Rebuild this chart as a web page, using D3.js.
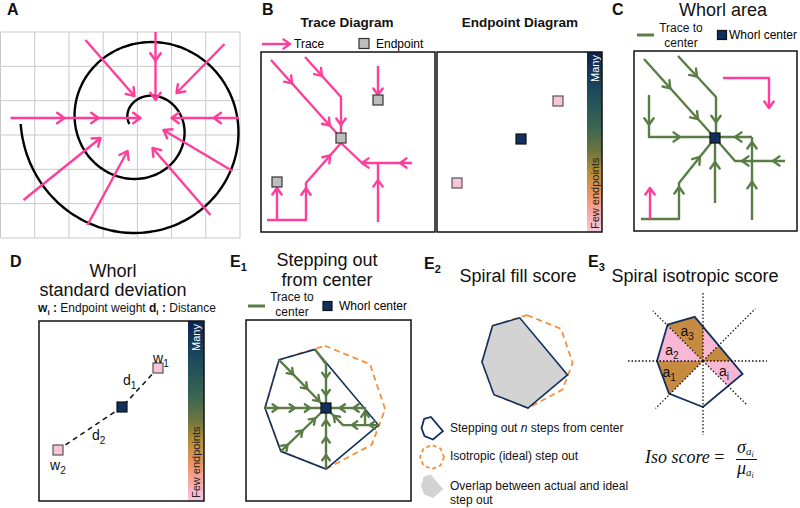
<!DOCTYPE html>
<html><head><meta charset="utf-8">
<script src="https://cdn.jsdelivr.net/npm/d3@7"></script>
<style>body{margin:0;background:#fff}svg{display:block;font-family:"Liberation Sans",Arial,sans-serif}</style>
</head><body><svg id="c" width="800" height="508"></svg>
<script>
// ---------------- DATA ----------------
// Panel A: spiral + traces (local px inside grid box)
const gridCols = 7, gridRows = 6;
const spiralA = {cx:142.5, cy:92, r0:13.5, growth:13.6, from:180, to:900};
const tracesA = [
 {pts:[[85,8],[134,64]], heads:[[0,1]]},
 {pts:[[155,0],[155,68]], heads:[[0,0.42],[0,1]]},
 {pts:[[224,12],[176,61]], heads:[[0,1]]},
 {pts:[[10,86],[140,86]], heads:[[0,0.415],[0,0.677],[0,1]]},
 {pts:[[238,86],[171,86]], heads:[[0,0.37],[0,1]]},
 {pts:[[232,139],[163,98]], heads:[[0,1]]},
 {pts:[[210,183],[152,116]], heads:[[0,1]]},
 {pts:[[87,193],[127,119]], heads:[[0,1]]},
 {pts:[[23,168],[100,106]], heads:[[0,1]]}
];
// Panel B: trace diagram
const tracesB = [
 {pts:[[10,8],[80,86]], heads:[[0,0.3],[0,0.84]]},
 {pts:[[44,5],[80,45],[80,81]], heads:[[0,0.47],[1,0.78]]},
 {pts:[[117,14],[117,43]], heads:[[0,1]]},
 {pts:[[6,168],[45,168],[45,131],[80,91]], heads:[[1,0.86],[2,0.69]]},
 {pts:[[16,168],[16,136]], heads:[[0,1]]},
 {pts:[[151,111],[101,111],[80,91]], heads:[[0,0.24],[0,1]]},
 {pts:[[117,170],[117,111]], heads:[[0,0.71]]}
];
const endpointsB = [[80,86],[117,48],[16,130]];
// Endpoint diagram
const endpointsEP = [{p:[121,49],many:false},{p:[84,87],many:true},{p:[20,131],many:false}];
// Panel C: whorl area
const tracesCgreen = [
 {pts:[[10,8],[81,87]], heads:[[0,0.37],[0,0.76]]},
 {pts:[[44,5],[82,46],[82,82]], heads:[[0,0.5],[1,0.7]]},
 {pts:[[15,44],[15,86],[81,86]], heads:[[0,0.71],[1,0.47]]},
 {pts:[[118,86],[81,86]], heads:[[0,0.46]]},
 {pts:[[118,169],[118,86]], heads:[[0,0.46],[0,0.94]]},
 {pts:[[151,110],[101,110],[81,87]], heads:[[0,0.24],[0,0.86]]},
 {pts:[[81,152],[81,87]], heads:[[0,0.63]]},
 {pts:[[7,168],[45,168],[45,132],[81,87]], heads:[[1,0.89],[2,0.58]]}
];
const tracesCpink = [
 {pts:[[89,27],[135,27],[135,57]], heads:[[1,1]]},
 {pts:[[16,168],[16,137]], heads:[[0,1]]}
];
const centerC = [81,87];
// Panel D
const endpointsD = [{p:[119,47],many:false},{p:[83,86],many:true},{p:[19,129],many:false}];
// E panels: stepping-out polygon and isotropic (ideal) polygon, unit coords
const stepPoly = [[-0.77,-0.79],[-0.18,-0.96],[0.86,0.28],[0,1],[-0.74,0.71],[-1,0]];
const isoPoly  = [[-0.02,-1.02],[0.72,-0.72],[0.97,0.02],[0.75,0.6],[0,1],[-0.74,0.71],[-1,0],[-0.77,-0.79]];
const iconSides = 8;
const tracesE1 = [
 {pts:[[-0.77,-0.79],[0,0]], heads:[[0,0.3],[0,0.6],[0,0.86]]},
 {pts:[[-0.18,-0.96],[0,-0.72],[0,0]], heads:[[1,0.32],[1,0.71]]},
 {pts:[[-1,0],[0,0]], heads:[[0,0.21],[0,0.49],[0,0.74]]},
 {pts:[[-0.74,0.71],[0,0]], heads:[[0,0.15],[0,0.48],[0,0.76]]},
 {pts:[[0,1],[0,0]], heads:[[0,0.23],[0,0.52],[0,0.8]]},
 {pts:[[0.86,0.28],[0.28,0.28],[0,0]], heads:[[0,0.25],[0,0.75],[1,0.55]]},
 {pts:[[0.64,0.28],[0.64,0],[0,0]], heads:[[0,0.8],[1,0.3],[1,0.65]]}
];
// E3 wedges (start angle deg, screen coords) and fills, ray lengths
const wedgeStart = [0,45,90,135,180,225,270,315];
const wedgeKind  = ["pink","none","none","brown","pink","brown","pink","brown"];
const rayLen = [1.39,1.35,1.61,1.46,1.63,1.54,1.48,1.61];
const areaLabels = [{p:[-0.28,-0.63],s:"3"},{p:[-0.61,-0.22],s:"2"},{p:[-0.67,0.26],s:"1"},{p:[0.52,0.24],s:"i"}];
const cbarStops = [[0,"#0c2352"],[0.22,"#1d4a5c"],[0.42,"#3b6650"],[0.55,"#6d7440"],[0.66,"#b48e35"],[0.8,"#ee9566"],[0.9,"#f6a9a8"],[1,"#f8c8e4"]];

// ---------------- STYLE ----------------
const PINK="#ff3d9a", GREEN="#5a7d45", NAVY="#10305f", ORANGE="#f5913c",
      GRAYSQ="#bdbdbd", PINKSQ="#f9c4da", BROWN="#c68b40", PINKFILL="#f8b7d4", POLYGRAY="#d3d3d3";
const svg = d3.select("#c");
const defs = svg.append("defs");
const grad = defs.append("linearGradient").attr("id","cbar").attr("x1",0).attr("y1",0).attr("x2",0).attr("y2",1);
cbarStops.forEach(s=>grad.append("stop").attr("offset",s[0]).attr("stop-color",s[1]));

function scales(box){
  return {x:d3.scaleLinear().domain([0,box.w]).range([box.x,box.x+box.w]),
          y:d3.scaleLinear().domain([0,box.h]).range([box.y,box.y+box.h])};
}
function unitScales(cx,cy,k){
  return {x:d3.scaleLinear().domain([0,1]).range([cx,cx+k]), y:d3.scaleLinear().domain([0,1]).range([cy,cy+k])};
}
function chevron(g,x,y,ang,size,color,sw){
  const a=0.62;
  const p1=[x-size*Math.cos(ang-a), y-size*Math.sin(ang-a)];
  const p2=[x-size*Math.cos(ang+a), y-size*Math.sin(ang+a)];
  g.append("path").attr("d",`M${p1[0]},${p1[1]}L${x},${y}L${p2[0]},${p2[1]}`)
   .attr("fill","none").attr("stroke",color).attr("stroke-width",sw).attr("stroke-linecap","round").attr("stroke-linejoin","round");
}
function drawTrace(g,tr,s,color,sw,hs){
  const pts=tr.pts.map(p=>[s.x(p[0]),s.y(p[1])]);
  g.append("path").attr("d",d3.line()(pts)).attr("fill","none").attr("stroke",color)
   .attr("stroke-width",sw).attr("stroke-linejoin","round");
  tr.heads.forEach(([i,t])=>{
    const a=pts[i], b=pts[i+1];
    chevron(g,a[0]+(b[0]-a[0])*t,a[1]+(b[1]-a[1])*t,Math.atan2(b[1]-a[1],b[0]-a[0]),hs,color,sw);
  });
}
function square(g,x,y,size,fill,stroke){
  g.append("rect").attr("x",x-size/2).attr("y",y-size/2).attr("width",size).attr("height",size)
   .attr("fill",fill).attr("stroke",stroke||"#333").attr("stroke-width",1.2);
}
function colorbar(box,barW){
  const x0=box.x+box.w-barW;
  svg.append("rect").attr("x",x0).attr("y",box.y).attr("width",barW).attr("height",box.h).attr("fill","url(#cbar)");
  const bx=x0+barW/2+4;
  svg.append("text").attr("transform",`translate(${bx},${box.y+3}) rotate(-90)`).attr("text-anchor","end")
    .attr("font-size",11).attr("fill","#fff").text("Many");
  svg.append("text").attr("transform",`translate(${bx},${box.y+box.h-3}) rotate(-90)`).attr("text-anchor","start")
    .attr("font-size",11).attr("fill","#222").text("Few endpoints");
}
function frame(box){
  svg.append("rect").attr("x",box.x).attr("y",box.y).attr("width",box.w).attr("height",box.h)
    .attr("fill","none").attr("stroke","#111").attr("stroke-width",1.5);
}
function title(lines,x,y,size,bold,lh){
  lines.forEach((l,i)=>svg.append("text").attr("x",x).attr("y",y+i*(lh||0)).attr("text-anchor","middle")
    .attr("font-size",size).attr("font-weight",bold?"bold":"normal").attr("fill","#111").text(l));
}
function polyPath(poly,s){ return d3.line()(poly.map(p=>[s.x(p[0]),s.y(p[1])]))+"Z"; }
const octagonIcon = d3.range(iconSides).map(k=>[Math.cos(k*2*Math.PI/iconSides), Math.sin(k*2*Math.PI/iconSides)]);

// ---------------- PANEL LABELS ----------------
[{t:"A",x:7,y:15},{t:"B",x:262,y:15},{t:"C",x:612,y:15},{t:"D",x:10,y:267},
 {t:"E",sub:"1",x:230,y:267},{t:"E",sub:"2",x:424,y:269},{t:"E",sub:"3",x:588,y:267}].forEach(l=>{
  const t=svg.append("text").attr("x",l.x).attr("y",l.y).attr("font-size",16).attr("font-weight","bold").attr("fill","#111").text(l.t);
  if(l.sub) t.append("tspan").attr("font-size",11).attr("dy",4).text(l.sub);
});

// ---------------- PANEL A ----------------
const boxA={x:0.5,y:32,w:239.5,h:206};
const sA=scales(boxA);
const gA=svg.append("g");
d3.range(gridCols+1).forEach(i=>gA.append("line").attr("x1",sA.x(i*boxA.w/gridCols)).attr("x2",sA.x(i*boxA.w/gridCols))
  .attr("y1",sA.y(0)).attr("y2",sA.y(boxA.h)).attr("stroke","#c9c9c9").attr("stroke-width",1));
d3.range(gridRows+1).forEach(j=>gA.append("line").attr("y1",sA.y(j*boxA.h/gridRows)).attr("y2",sA.y(j*boxA.h/gridRows))
  .attr("x1",sA.x(0)).attr("x2",sA.x(boxA.w)).attr("stroke","#c9c9c9").attr("stroke-width",1));
const spPts=d3.range(spiralA.from,spiralA.to+0.1,2).map(th=>{
  const r=spiralA.r0+spiralA.growth*(th-spiralA.from)/90, a=th*Math.PI/180;
  return [sA.x(spiralA.cx+r*Math.cos(a)), sA.y(spiralA.cy+r*Math.sin(a))];
});
gA.append("path").attr("d",d3.line().curve(d3.curveBasis)(spPts)).attr("fill","none").attr("stroke","#000").attr("stroke-width",2.4);
tracesA.forEach(tr=>drawTrace(gA,tr,sA,PINK,2.4,9));

// ---------------- PANEL B ----------------
title(["Trace Diagram"],347,27,13.5,true);
const gBl=svg.append("g");
drawTrace(gBl,{pts:[[262,44],[290,44]],heads:[[0,1]]},{x:d=>d,y:d=>d},PINK,2.4,8);
svg.append("text").attr("x",294).attr("y",48).attr("font-size",12).text("Trace");
square(svg,364,43.5,10,GRAYSQ);
svg.append("text").attr("x",376).attr("y",48).attr("font-size",12).text("Endpoint");
const boxB={x:261,y:52,w:174,h:180};
const sB=scales(boxB);
const gB=svg.append("g");
tracesB.forEach(tr=>drawTrace(gB,tr,sB,PINK,2.4,8));
endpointsB.forEach(p=>square(gB,sB.x(p[0]),sB.y(p[1]),10,GRAYSQ));
frame(boxB);

// ---------------- ENDPOINT DIAGRAM ----------------
title(["Endpoint Diagram"],520,27,13.5,true);
const boxEP={x:437,y:52,w:165,h:180};
const sEP=scales(boxEP);
colorbar(boxEP,15);
endpointsEP.forEach(e=>square(svg,sEP.x(e.p[0]),sEP.y(e.p[1]),10,e.many?NAVY:PINKSQ,e.many?"#111":"#555"));
frame(boxEP);

// ---------------- PANEL C ----------------
title(["Whorl area"],723,16,18,false);
svg.append("line").attr("x1",637).attr("x2",654).attr("y1",35).attr("y2",35).attr("stroke",GREEN).attr("stroke-width",3);
title(["Trace to","center"],681,32,12,false,15);
square(svg,722,35,9,NAVY,"#111");
svg.append("text").attr("x",729).attr("y",39).attr("font-size",12).text("Whorl center");
const boxC={x:634,y:51,w:163,h:180};
const sC=scales(boxC);
const gC=svg.append("g");
tracesCgreen.forEach(tr=>drawTrace(gC,tr,sC,GREEN,2.4,8));
tracesCpink.forEach(tr=>drawTrace(gC,tr,sC,PINK,2.4,8));
square(gC,sC.x(centerC[0]),sC.y(centerC[1]),10,NAVY,"#111");
frame(boxC);

// ---------------- PANEL D ----------------
title(["Whorl","standard deviation"],113,277,18,false,19);
const sub=svg.append("text").attr("x",127).attr("y",312).attr("text-anchor","middle").attr("font-size",12).attr("fill","#111");
sub.append("tspan").attr("font-weight","bold").text("w");
sub.append("tspan").attr("font-weight","bold").attr("font-size",8).attr("dy",3).text("i");
sub.append("tspan").attr("font-weight","bold").attr("dy",-3).text(" : ");
sub.append("tspan").text("Endpoint weight ");
sub.append("tspan").attr("font-weight","bold").text("d");
sub.append("tspan").attr("font-weight","bold").attr("font-size",8).attr("dy",3).text("i");
sub.append("tspan").attr("font-weight","bold").attr("dy",-3).text(" : ");
sub.append("tspan").text("Distance");
const boxD={x:39,y:321,w:165,h:180};
const sD=scales(boxD);
colorbar(boxD,16);
const cD=endpointsD.find(e=>e.many).p;
endpointsD.filter(e=>!e.many).forEach(e=>svg.append("line").attr("x1",sD.x(e.p[0])).attr("y1",sD.y(e.p[1]))
  .attr("x2",sD.x(cD[0])).attr("y2",sD.y(cD[1])).attr("stroke","#111").attr("stroke-width",1.5).attr("stroke-dasharray","5,4"));
endpointsD.forEach(e=>square(svg,sD.x(e.p[0]),sD.y(e.p[1]),10,e.many?NAVY:PINKSQ,e.many?"#111":"#555"));
function subLabel(x,y,main,s,size){
  const t=svg.append("text").attr("x",x).attr("y",y).attr("font-size",size).attr("fill","#111").text(main);
  t.append("tspan").attr("font-size",size*0.72).attr("dy",size*0.3).text(s);
  return t;
}
subLabel(153,363,"w","1",14);
subLabel(50,470,"w","2",14);
subLabel(123,385,"d","1",14);
subLabel(92,440,"d","2",14);
frame(boxD);

// ---------------- PANEL E1 ----------------
title(["Stepping out","from center"],327,266,18,false,20);
svg.append("line").attr("x1",248).attr("x2",265).attr("y1",306).attr("y2",306).attr("stroke",GREEN).attr("stroke-width",3);
title(["Trace to","center"],292,301,12,false,15);
square(svg,327.5,306,9,NAVY,"#111");
svg.append("text").attr("x",339).attr("y",310).attr("font-size",12).text("Whorl center");
const boxE1={x:246,y:320,w:165,h:181};
frame(boxE1);
const sE1=unitScales(326,408,61);
const gE1=svg.append("g");
gE1.append("path").attr("d",polyPath(isoPoly,sE1)).attr("fill","none").attr("stroke",ORANGE).attr("stroke-width",1.8).attr("stroke-dasharray","6,4");
gE1.append("path").attr("d",polyPath(stepPoly,sE1)).attr("fill","none").attr("stroke",NAVY).attr("stroke-width",1.6);
tracesE1.forEach(tr=>drawTrace(gE1,tr,sE1,GREEN,2.4,6.5));
square(gE1,sE1.x(0),sE1.y(0),10,NAVY,"#111");

// ---------------- PANEL E2 ----------------
title(["Spiral fill score"],518,282,18,false);
const sE2=unitScales(528,362,46);
svg.append("path").attr("d",polyPath(isoPoly,sE2)).attr("fill","none").attr("stroke",ORANGE).attr("stroke-width",1.8).attr("stroke-dasharray","6,4");
svg.append("path").attr("d",polyPath(stepPoly,sE2)).attr("fill",POLYGRAY).attr("stroke",NAVY).attr("stroke-width",1.6);
// legend
const sL1=unitScales(433,428,11.5), sL2=unitScales(432,457,12), sL3=unitScales(433,486,12);
svg.append("path").attr("d",polyPath(stepPoly,sL1)).attr("fill","none").attr("stroke",NAVY).attr("stroke-width",1.8);
svg.append("path").attr("d",polyPath(octagonIcon,sL2)).attr("fill","none").attr("stroke",ORANGE).attr("stroke-width",1.8).attr("stroke-dasharray","4,3");
svg.append("path").attr("d",polyPath(stepPoly,sL3)).attr("fill",POLYGRAY).attr("stroke","none");
const lt1=svg.append("text").attr("x",450).attr("y",432).attr("font-size",12).attr("fill","#111");
lt1.append("tspan").text("Stepping out ");
lt1.append("tspan").attr("font-style","italic").text("n");
lt1.append("tspan").text(" steps from center");
svg.append("text").attr("x",450).attr("y",460).attr("font-size",12).attr("fill","#111").text("Isotropic (ideal) step out");
svg.append("text").attr("x",450).attr("y",490).attr("font-size",12).attr("fill","#111").text("Overlap between actual and ideal");
svg.append("text").attr("x",450).attr("y",504).attr("font-size",12).attr("fill","#111").text("step out");

// ---------------- PANEL E3 ----------------
title(["Spiral isotropic score"],695,282,18,false);
const sE3=unitScales(703,361,46);
defs.append("clipPath").attr("id","e3clip").append("path").attr("d",polyPath(stepPoly,sE3));
const gE3=svg.append("g").attr("clip-path","url(#e3clip)");
wedgeStart.forEach((a0,i)=>{
  if(wedgeKind[i]==="none") return;
  const r=3, a=a0*Math.PI/180, b=(a0+45)*Math.PI/180;
  const pts=[[0,0],[r*Math.cos(a),r*Math.sin(a)],[r*Math.cos(b),r*Math.sin(b)]];
  gE3.append("path").attr("d",polyPath(pts,sE3)).attr("fill",wedgeKind[i]==="pink"?PINKFILL:BROWN);
});
svg.append("path").attr("d",polyPath(stepPoly,sE3)).attr("fill","none").attr("stroke",NAVY).attr("stroke-width",1.8);
wedgeStart.forEach((a0,i)=>{
  const a=a0*Math.PI/180, L=rayLen[i];
  svg.append("line").attr("x1",sE3.x(0)).attr("y1",sE3.y(0)).attr("x2",sE3.x(L*Math.cos(a))).attr("y2",sE3.y(L*Math.sin(a)))
    .attr("stroke","#111").attr("stroke-width",1.3).attr("stroke-dasharray","1.5,2");
});
areaLabels.forEach(l=>{
  const t=svg.append("text").attr("x",sE3.x(l.p[0])-3).attr("y",sE3.y(l.p[1])+4).attr("text-anchor","middle").attr("font-size",14).attr("fill","#111").text("a");
  t.append("tspan").attr("font-size",10).attr("dy",4).text(l.s);
});
// formula
const f=svg.append("text").attr("x",645).attr("y",463).attr("font-family","'Liberation Serif','Times New Roman',serif").attr("font-size",18).attr("fill","#111");
f.append("tspan").attr("font-style","italic").text("Iso score");
f.append("tspan").text(" =");
function greekFrac(x,y,g){
  const t=svg.append("text").attr("x",x).attr("y",y).attr("font-family","'Liberation Serif','Times New Roman',serif").attr("font-size",18).attr("fill","#111");
  t.append("tspan").attr("font-style","italic").text(g);
  t.append("tspan").attr("font-style","italic").attr("font-size",11).attr("dy",2).text("a");
  t.append("tspan").attr("font-style","italic").attr("font-size",8).attr("dy",1.5).text("i");
}
greekFrac(737,453,"σ");
svg.append("line").attr("x1",736).attr("x2",757).attr("y1",459.5).attr("y2",459.5).attr("stroke","#111").attr("stroke-width",1);
greekFrac(737,474,"μ");
</script></body></html>
